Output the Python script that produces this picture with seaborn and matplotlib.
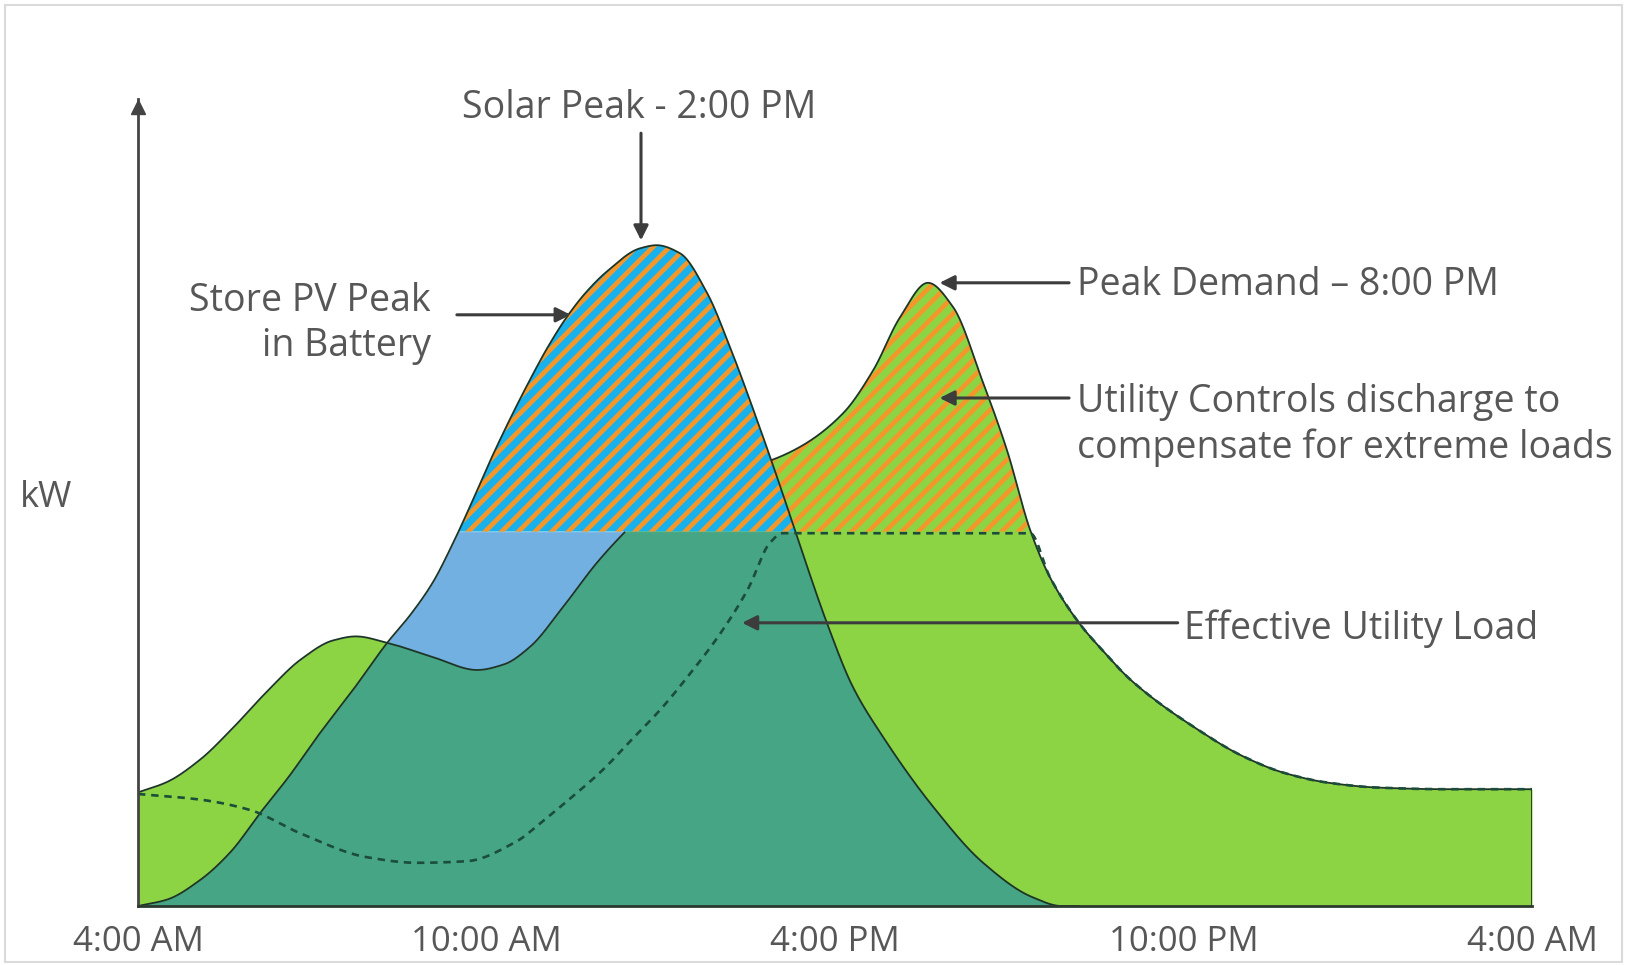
import numpy as np
import matplotlib
matplotlib.use("Agg")
import matplotlib.pyplot as plt
import seaborn as sns
from matplotlib.patches import Rectangle

# Hours after 4:00 AM and load / generation in kW (relative units)
hours_load = [0.0, 0.5, 1.07, 1.6, 2.22, 2.8, 3.36, 3.75, 4.29, 5.08, 5.84, 6.3, 6.75,
              7.32, 7.9, 8.35, 9.0, 10.0, 10.85, 11.4, 12.14, 12.66, 13.12, 13.6,
              14.03, 14.55, 14.96, 15.36, 15.7, 16.2, 16.6, 17.1, 18.3, 19.0, 19.75,
              20.5, 21.35, 22.5, 24.0]
load_kw = [14.2, 15.5, 18.3, 22.0, 26.8, 30.8, 33.2, 33.7, 32.9, 31.1, 29.5, 30.2, 32.4,
           37.4, 42.9, 46.5, 51.0, 54.0, 55.6, 57.4, 61.6, 67.0, 73.6, 77.9,
           74.9, 65.4, 57.0, 47.0, 41.1, 35.4, 32.0, 28.2, 21.8, 18.8, 16.6,
           15.4, 14.8, 14.6, 14.6]

hours_solar = [0.0, 0.5, 1.07, 1.6, 2.1, 2.6, 3.08, 3.7, 4.29, 4.7, 5.08, 5.4, 5.75, 6.06,
               6.4, 6.75, 7.05, 7.38, 7.7, 8.07, 8.64, 8.93, 9.33, 9.8, 10.19, 10.66,
               11.05, 11.3, 11.86, 12.3, 12.83, 13.69, 14.55, 15.4, 15.9, 18.0, 24.0]
solar_kw = [0.0, 0.8, 3.25, 6.8, 11.6, 16.2, 21.1, 27.0, 32.9, 36.5, 40.5, 45.0, 50.5, 55.6,
            60.8, 65.8, 69.8, 73.6, 76.6, 79.3, 82.2, 82.6, 81.6, 76.6, 69.9, 60.7,
            52.6, 47.2, 35.4, 27.5, 21.1, 12.4, 5.4, 1.1, 0.0, 0.0, 0.0]

hours_effective = [0.0, 1.07, 1.93, 2.79, 3.94, 4.8, 5.66, 6.5, 7.0, 7.5, 8.0, 8.5, 9.0,
                   9.5, 10.0, 10.5, 10.88, 11.1, 13.0, 15.36, 15.7, 16.2, 16.6, 17.1,
                   18.3, 19.0, 19.75, 20.5, 21.35, 22.5, 24.0]
effective_kw = [14.0, 13.3, 12.0, 9.1, 6.1, 5.4, 5.6, 8.0, 10.8, 13.8, 17.0, 20.8, 24.6,
                29.0, 33.8, 39.6, 45.4, 46.6, 46.6, 46.6, 41.1, 35.4, 32.0, 28.2,
                21.8, 18.8, 16.6, 15.4, 14.8, 14.6, 14.6]

shave_level = 46.8

tick_hours = [0, 6, 12, 18, 24]
tick_labels = ["4:00 AM", "10:00 AM", "4:00 PM", "10:00 PM", "4:00 AM"]

GREEN = "#8dd444"
TEAL = "#45a585"
BLUE = "#73b0e2"
CYAN = "#19b1ec"
ORANGE = "#f4972b"
OUTLINE = "#1d3527"
TEXT = "#575757"
ARROW = "#3c3c3c"


def smooth(x, y, xs):
    """Monotone cubic (Fritsch-Carlson) curve through the given points."""
    x = np.asarray(x, float)
    y = np.asarray(y, float)
    h = np.diff(x)
    d = np.diff(y) / h
    m = np.zeros_like(y)
    m[0], m[-1] = d[0], d[-1]
    for k in range(1, len(x) - 1):
        if d[k - 1] * d[k] > 0:
            w1 = 2 * h[k] + h[k - 1]
            w2 = h[k] + 2 * h[k - 1]
            m[k] = (w1 + w2) / (w1 / d[k - 1] + w2 / d[k])
    i = np.clip(np.searchsorted(x, xs) - 1, 0, len(h) - 1)
    t = (xs - x[i]) / h[i]
    h00 = 2 * t**3 - 3 * t**2 + 1
    h10 = t**3 - 2 * t**2 + t
    h01 = -2 * t**3 + 3 * t**2
    h11 = t**3 - t**2
    return h00 * y[i] + h10 * h[i] * m[i] + h01 * y[i + 1] + h11 * h[i] * m[i + 1]


grid = np.linspace(0, 24, 2401)
load = smooth(hours_load, load_kw, grid)
solar = np.clip(smooth(hours_solar, solar_kw, grid), 0, None)
effective = smooth(hours_effective, effective_kw, grid)
thr = np.full_like(grid, shave_level)

sns.set_theme(style="white")
plt.rcParams["font.family"] = ["Open Sans", "DejaVu Sans"]
plt.rcParams["hatch.linewidth"] = 3.4

fig = plt.figure(figsize=(16.28, 9.65), dpi=100)
ax = fig.add_axes([138 / 1628, 59 / 965, 1394 / 1628, 807 / 965])
ax.set_xlim(0, 24)
ax.set_ylim(0, 807 / 8)

# total site load
ax.fill_between(grid, 0, load, facecolor=GREEN, linewidth=0, zorder=1)
# load served directly by PV
served = np.minimum(np.minimum(solar, load), thr)
ax.fill_between(grid, 0, served, facecolor=TEAL, linewidth=0, zorder=2)
# PV surplus below the shaving level
cap = np.minimum(solar, thr)
ax.fill_between(grid, load, cap, where=load < cap, interpolate=True,
                facecolor=BLUE, linewidth=0, zorder=2)
# PV peak stored in the battery
ax.fill_between(grid, thr, solar, where=solar > thr, interpolate=True,
                facecolor=CYAN, edgecolor=ORANGE, hatch="//", linewidth=0, zorder=3)
# battery discharge during the demand peak
floor = np.maximum(thr, solar)
ax.fill_between(grid, floor, load, where=load > floor, interpolate=True,
                facecolor=GREEN, edgecolor=ORANGE, hatch="//", linewidth=0, zorder=3)

# load outline, hidden where it runs inside the hatched PV peak
visible = ~((load < solar) & (load > thr))
edges = np.flatnonzero(np.diff(np.r_[0, visible.astype(int), 0]))
for a, b in zip(edges[::2], edges[1::2]):
    sns.lineplot(x=grid[a:b], y=load[a:b], ax=ax, color=OUTLINE, linewidth=1.3,
                 zorder=4, estimator=None, sort=False)
sns.lineplot(x=grid[grid <= 16.2], y=solar[grid <= 16.2], ax=ax, color=OUTLINE,
             linewidth=1.3, zorder=4, estimator=None, sort=False)
ax.vlines(24, 0, load[-1], color=OUTLINE, linewidth=1.3, zorder=4)
sns.lineplot(x=grid, y=effective, ax=ax, color="#1b4d3a", linewidth=1.9,
             linestyle=(0, (2.8, 2.2)), zorder=5, estimator=None, sort=False)

# axes
for side in ("top", "right"):
    ax.spines[side].set_visible(False)
ax.spines["left"].set_color("#444444")
ax.spines["left"].set_linewidth(2)
ax.spines["bottom"].set_color("#2b3a2f")
ax.spines["bottom"].set_linewidth(2)
ax.spines["left"].set_zorder(6)
ax.spines["bottom"].set_zorder(6)
ax.plot([0], [0.99], marker="^", markersize=10, color="#444444",
        transform=ax.transAxes, clip_on=False, zorder=7)
ax.set_xticks(tick_hours, tick_labels)
ax.set_yticks([])
ax.tick_params(axis="x", length=0, pad=14, labelsize=25, labelcolor=TEXT)
ax.set_xlabel("")
ax.set_ylabel("")
ax.text(-0.066, 0.506, "kW", transform=ax.transAxes, ha="center", va="center",
        fontsize=26, color=TEXT, clip_on=False)

# callouts
txt = dict(fontsize=27, color=TEXT, va="center", zorder=8)
arw = dict(arrowstyle="-|>", color=ARROW, lw=2.2, mutation_scale=22,
           shrinkA=0, shrinkB=0)

ax.text(8.63, 99.8, "Solar Peak - 2:00 PM", ha="center", clip_on=False, **txt)
ax.annotate("", xy=(8.66, 83.2), xytext=(8.66, 96.6), arrowprops=arw,
            annotation_clip=False, zorder=8)

ax.text(5.04, 75.6, "Store PV Peak", ha="right", **txt)
ax.text(5.04, 70.0, "in Battery", ha="right", **txt)
ax.annotate("", xy=(7.45, 73.9), xytext=(5.49, 73.9), arrowprops=arw, zorder=8)

ax.text(16.17, 77.6, "Peak Demand \u2013 8:00 PM", ha="left", **txt)
ax.annotate("", xy=(13.8, 77.9), xytext=(16.03, 77.9), arrowprops=arw, zorder=8)

ax.text(16.17, 63.0, "Utility Controls discharge to", ha="left", clip_on=False, **txt)
ax.text(16.17, 57.3, "compensate for extreme loads", ha="left", clip_on=False, **txt)
ax.annotate("", xy=(13.8, 63.5), xytext=(16.03, 63.5), arrowprops=arw, zorder=8)

ax.text(18.01, 34.7, "Effective Utility Load", ha="left", **txt)
ax.annotate("", xy=(10.4, 35.4), xytext=(17.9, 35.4), arrowprops=arw, zorder=8)

# thin frame round the picture
fig.add_artist(Rectangle((5 / 1628, 3 / 965), 1617 / 1628, 957 / 965,
                         transform=fig.transFigure, fill=False,
                         edgecolor="#dadada", linewidth=1.5, zorder=0))

fig.savefig("out.png", dpi=100)
